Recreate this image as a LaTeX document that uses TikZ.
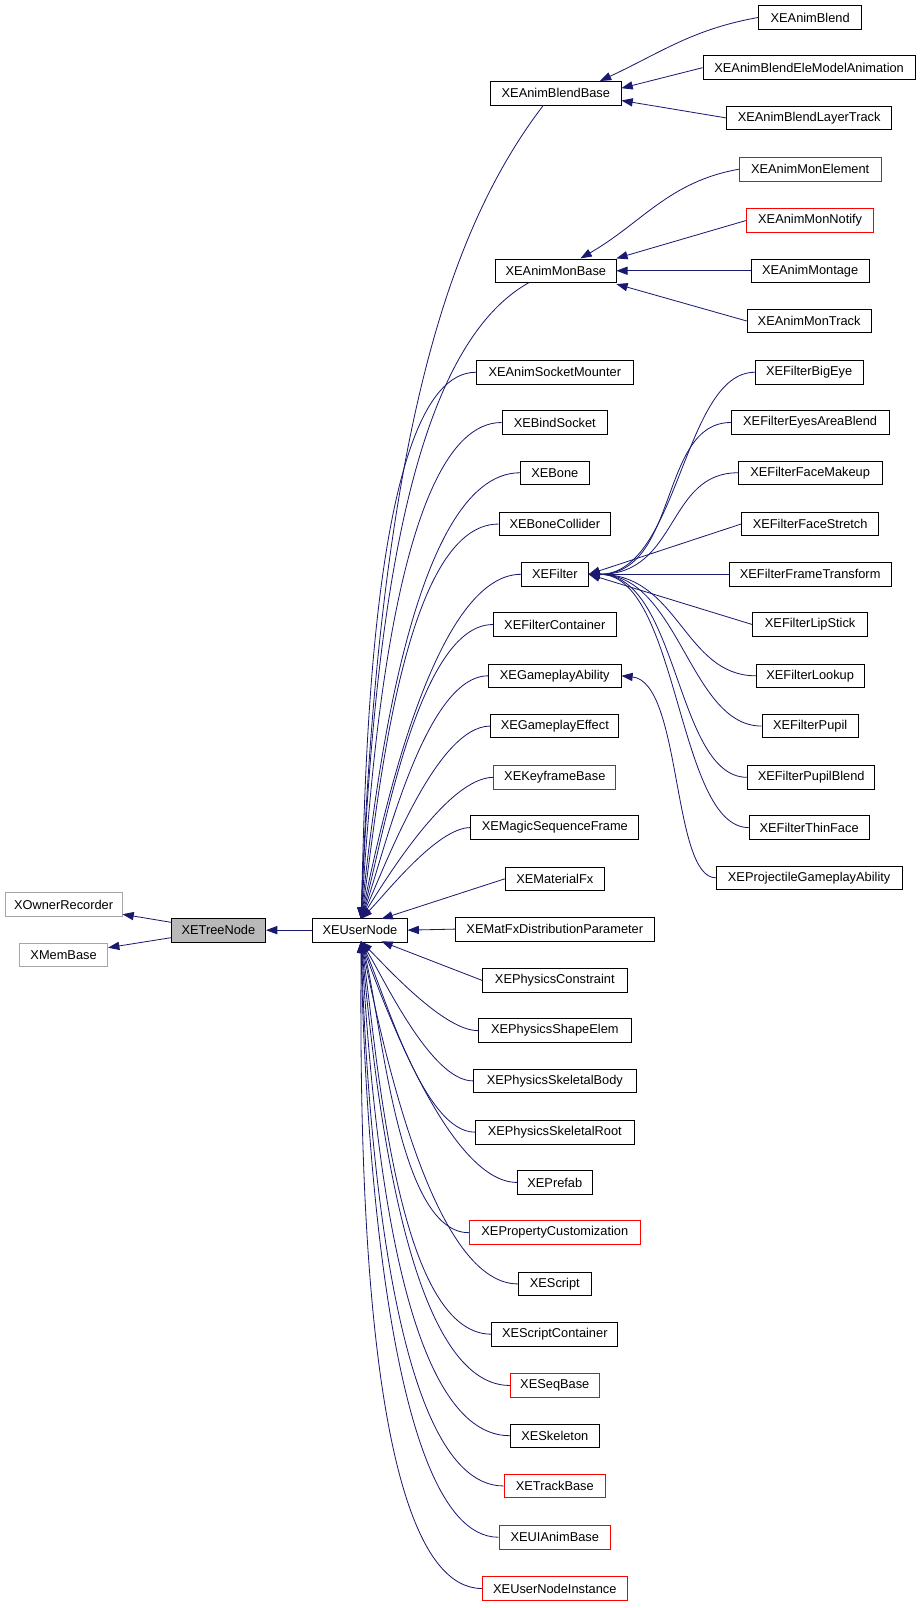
\documentclass[tikz,border=0pt]{standalone}
\usepackage{fontspec}
\setmainfont{Liberation Sans}
\usetikzlibrary{arrows.meta,calc}
\definecolor{edge}{HTML}{191970}
\begin{document}
\begin{tikzpicture}[x=1pt,y=-1pt,
  box/.style={draw=black,line width=0.8pt,minimum height=23pt,inner sep=0pt,font=\fontsize{12.5}{14}\selectfont,fill=white},
  red/.style={draw=red},
  gray/.style={draw=gray!70},
  e/.style={draw=edge,line width=0.8pt,-{Triangle[length=11pt,width=8pt]}}]
\useasboundingbox (0,0) rectangle (900,1568);
\newcommand\bx[6][]{\node[box,#1,minimum width=#4] (#2) at (#3) {#6};}
% left
\bx[gray]{own}{62,882}{114}{}{XOwnerRecorder}
\bx[gray]{mem}{62,931}{86}{}{XMemBase}
\bx[fill=gray!55]{tree}{213,907}{92}{}{XETreeNode}
\bx{un}{351,907}{92}{}{XEUserNode}
% anim blend
\bx{ablb}{542,91}{127}{}{XEAnimBlendBase}
\bx{ab}{790,17}{100}{}{XEAnimBlend}
\bx{abem}{789,66}{207}{}{XEAnimBlendEleModelAnimation}
\bx{ablt}{789,115}{161}{}{XEAnimBlendLayerTrack}
\bx[red]{ame}{790,165}{138}{}{XEAnimMonElement}
\bx[red]{amn}{790,215}{124}{}{XEAnimMonNotify}
\bx{amm}{790,264}{115}{}{XEAnimMontage}
\bx{amt}{789,313}{121}{}{XEAnimMonTrack}
\bx{amb}{542,264}{118}{}{XEAnimMonBase}
\bx{c3}{541,363}{153}{}{XEAnimSocketMounter}
\bx{c4}{541,412}{103}{}{XEBindSocket}
\bx{c5}{541,461}{67}{}{XEBone}
\bx{c6}{541,511}{109}{}{XEBoneCollider}
\bx{filter}{541,560}{65}{}{XEFilter}
\bx{c8}{541,609}{120}{}{XEFilterContainer}
\bx{gab}{541,659}{129}{}{XEGameplayAbility}
\bx{c10}{541,708}{125}{}{XEGameplayEffect}
\bx[red]{c11}{541,758}{119}{}{XEKeyframeBase}
\bx{c12}{541,807}{164}{}{XEMagicSequenceFrame}
\bx{c13}{541,857}{97}{}{XEMaterialFx}
\bx{c14}{541,906}{194}{}{XEMatFxDistributionParameter}
\bx{c15}{541,956}{141}{}{XEPhysicsConstraint}
\bx{c16}{541,1005}{149}{}{XEPhysicsShapeElem}
\bx{c17}{541,1054}{159}{}{XEPhysicsSkeletalBody}
\bx{c18}{541,1104}{155}{}{XEPhysicsSkeletalRoot}
\bx{c19}{541,1153}{73}{}{XEPrefab}
\bx[red]{c20}{541,1202}{167}{}{XEPropertyCustomization}
\bx{c21}{541,1252}{71}{}{XEScript}
\bx{c22}{541,1301}{123}{}{XEScriptContainer}
\bx[red]{c23}{541,1351}{87}{}{XESeqBase}
\bx{c24}{541,1400}{87}{}{XESkeleton}
\bx[red]{c25}{541,1449}{99}{}{XETrackBase}
\bx[red]{c26}{541,1499}{109}{}{XEUIAnimBase}
\bx[red]{c27}{541,1549}{141}{}{XEUserNodeInstance}
% filter children
\bx{f1}{789,363}{105}{}{XEFilterBigEye}
\bx{f2}{790,412}{154}{}{XEFilterEyesAreaBlend}
\bx{f3}{790,461}{140}{}{XEFilterFaceMakeup}
\bx{f4}{790,511}{134}{}{XEFilterFaceStretch}
\bx{f5}{790,560}{158}{}{XEFilterFrameTransform}
\bx{f6}{790,609}{112}{}{XEFilterLipStick}
\bx{f7}{790,659}{105}{}{XEFilterLookup}
\bx{f8}{790,708}{94}{}{XEFilterPupil}
\bx{f9}{791,758}{124}{}{XEFilterPupilBlend}
\bx{f10}{789,807}{117}{}{XEFilterThinFace}
\bx{pga}{789,856}{181}{}{XEProjectileGameplayAbility}
\coordinate (ut) at (352,896);
\coordinate (ub) at (352,918);
\coordinate (fe) at (574,560);
\coordinate (ablbs) at (530,102.5);
\coordinate (ambs) at (516,275.5);
% edges
\draw[e] (tree) -- (own);
\draw[e] (tree) -- (mem);
\draw[e] (un) -- (tree);
\draw[e] (ab.west) to[out=190,in=25] (585,79);
\draw[e] (abem.west) -- (606,86);
\draw[e] (ablt.west) -- (606,98);
\draw[e] (ame.west) to[out=190,in=30] (566,252);
\draw[e] (amn.west) -- (601,252);
\draw[e] (amm.west) -- (601,264);
\draw[e] (amt.west) -- (601,277);
\draw[e] (ablbs) .. controls (440,220) and (370,420) .. (ut);
\draw[e] (ambs) .. controls (400,340) and (365,600) .. (ut);
\foreach \n/\a/\l in {c3/88/0.5,c4/86/0.55,c5/84/0.6,c6/81/0.6,filter/78/0.6,c8/74/0.6,gab/70/0.6,c10/65/0.6,c11/58/0.6,c12/45/0.6}
  \draw[e] (\n.west) to[out=180,in=\a,looseness=\l] (ut);
\foreach \n/\a/\l in {c16/-45/0.6,c17/-58/0.6,c18/-65/0.6,c19/-70/0.6,c20/-74/0.6,c21/-78/0.6,c22/-81/0.6,c23/-84/0.6,c24/-86/0.6,c25/-88/0.55,c26/-89/0.5,c27/-90/0.5}
  \draw[e] (\n.west) to[out=180,in=\a,looseness=\l] (ub);
\draw[e] (c13.west) -- (372,896);
\draw[e] (c14.west) -- (un.east);
\draw[e] (c15.west) -- (372,918);
\foreach \n in {f1,f2,f3,f7,f8,f9,f10}
  \draw[e] (\n.west) .. controls ($(\n.west)+(-70,0)$) and (662,560) .. (fe);
\foreach \n in {f4,f5,f6}
  \draw[e] (\n.west) -- (fe);
\draw[e] (pga.west) .. controls (655,856) and (665,665) .. (gab.east);
\end{tikzpicture}
\end{document}
